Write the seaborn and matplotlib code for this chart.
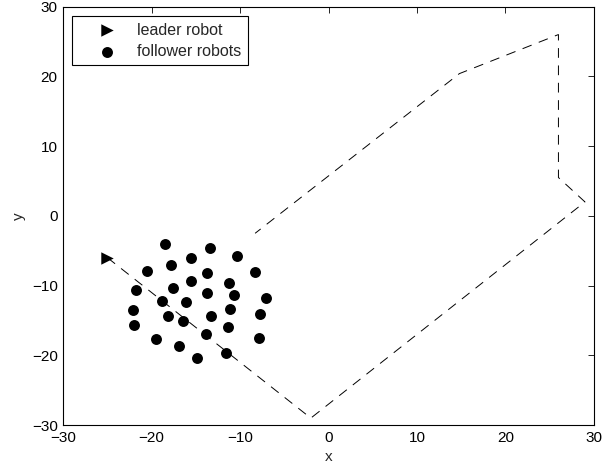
import matplotlib
matplotlib.use('Agg')
import matplotlib.pyplot as plt
import seaborn as sns

# leader robot start and its dashed trajectory
leader_x = [-25.0]
leader_y = [-6.0]
path_x = [-25.0, -2.0, 29.0, 26.0, 26.0, 14.8, -8.3]
path_y = [-6.0, -29.0, 2.0, 5.5, 26.0, 20.4, -2.5]

# follower robots
follower_x = [-18.5, -13.4, -10.3, -15.6, -17.8, -20.5, -8.3, -13.7, -15.6, -11.2,
              -21.8, -17.6, -13.7, -10.7, -18.8, -7.1, -16.1, -22.1, -11.1, -18.1,
              -7.8, -13.3, -16.4, -22.0, -11.4, -13.8, -7.9, -19.5, -16.9, -11.6, -14.9]
follower_y = [-4.0, -4.6, -5.7, -6.1, -7.0, -7.9, -8.0, -8.2, -9.4, -9.6,
              -10.6, -10.4, -11.1, -11.4, -12.2, -11.8, -12.4, -13.5, -13.3, -14.3,
              -14.1, -14.3, -15.1, -15.6, -16.0, -17.0, -17.5, -17.6, -18.7, -19.7, -20.4]

sns.set_style('white')
plt.rcParams['font.family'] = ['Liberation Sans', 'DejaVu Sans']
plt.rcParams['lines.scale_dashes'] = False

fig = plt.figure(figsize=(6.05, 4.76), dpi=100)
ax = fig.add_axes([0.1045, 0.107, 0.877, 0.879])

sns.lineplot(x=path_x, y=path_y, sort=False, estimator=None, ax=ax,
             color='black', linewidth=0.7, dashes=False)
ax.lines[-1].set_dashes((7, 5.5))
sns.scatterplot(x=leader_x, y=leader_y, marker='>', s=80, color='black',
                edgecolor='black', linewidth=0, ax=ax, label='leader robot')
sns.scatterplot(x=follower_x, y=follower_y, marker='o', s=62, color='black',
                edgecolor='black', linewidth=0, ax=ax, label='follower robots')

ax.set_xlim(-30, 30)
ax.set_ylim(-30, 30)
ax.set_xticks(range(-30, 31, 10))
ax.set_yticks(range(-30, 31, 10))
ax.set_xlabel('x', fontsize=11, labelpad=4)
ax.set_ylabel('y', fontsize=11, labelpad=4)
ax.tick_params(direction='in', length=4, width=0.6, top=True, right=True,
               labelsize=11, pad=4, colors='black')
for sp in ax.spines.values():
    sp.set_color('black')
    sp.set_linewidth(0.8)

leg = ax.legend(loc='upper left', fontsize=11.5, frameon=True, fancybox=False,
                edgecolor='black', framealpha=1, borderpad=0.4, borderaxespad=0,
                labelspacing=0.4, handlelength=3.6, handletextpad=0.1,
                bbox_to_anchor=(0.0165, 0.977))
leg.get_frame().set_linewidth(0.8)

fig.savefig('out.png', dpi=100)
